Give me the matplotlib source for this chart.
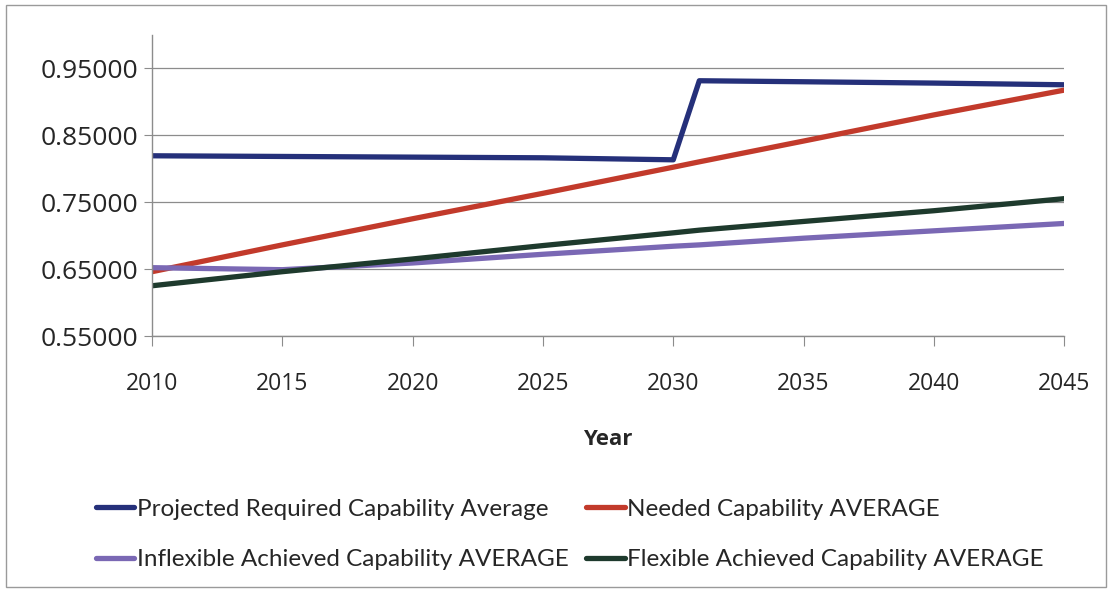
import matplotlib
matplotlib.use("Agg")
import matplotlib.pyplot as plt
from matplotlib.patches import Rectangle

years = [2010, 2015, 2020, 2025, 2030, 2031, 2035, 2040, 2045]
projected = [0.8190, 0.8180, 0.8170, 0.8160, 0.8130, 0.9310, 0.9295, 0.9275, 0.9250]
needed = [0.6460, 0.6860, 0.7250, 0.7630, 0.8020, 0.8100, 0.8410, 0.8800, 0.9170]
inflexible = [0.6520, 0.6490, 0.6590, 0.6720, 0.6840, 0.6860, 0.6960, 0.7070, 0.7180]
flexible = [0.6250, 0.6460, 0.6650, 0.6850, 0.7040, 0.7080, 0.7210, 0.7370, 0.7550]

series_names = ["Projected Required Capability Average",
                "Needed Capability AVERAGE",
                "Inflexible Achieved Capability AVERAGE",
                "Flexible Achieved Capability AVERAGE"]
x_ticks = [2010, 2015, 2020, 2025, 2030, 2035, 2040, 2045]
y_ticks = [0.55, 0.65, 0.75, 0.85, 0.95]

colors = ["#25307A", "#C23A2B", "#7A68B4", "#1E3A2D"]

fig = plt.figure(figsize=(11.12, 5.92), dpi=100)
fig.patches.append(Rectangle((0.005, 0.008), 0.99, 0.984, transform=fig.transFigure,
                             fill=False, edgecolor="#9a9a9a", linewidth=1.0))
ax = fig.add_axes([0.1367, 0.4324, 0.8203, 0.5093])

data = [projected, needed, inflexible, flexible]
lines = []
for vals, c, name in zip(data, colors, series_names):
    ln, = ax.plot(years, vals, color=c, linewidth=3.8, label=name, solid_capstyle="round")
    lines.append(ln)

ax.set_xlim(2010, 2045)
ax.set_ylim(0.55, 1.0)
ax.set_xticks(x_ticks)
ax.set_yticks(y_ticks)
ax.set_yticklabels([f"{v:.5f}" for v in y_ticks])
ax.grid(axis="y", color="#8c8c8c", linewidth=0.9)
ax.set_axisbelow(True)
for s in ["top", "right"]:
    ax.spines[s].set_visible(False)
for s in ["left", "bottom"]:
    ax.spines[s].set_color("#8c8c8c")
    ax.spines[s].set_linewidth(1.0)
ax.tick_params(axis="x", length=7, color="#8c8c8c", labelsize=16.5, pad=19, labelcolor="#262626")
ax.tick_params(axis="y", length=6, color="#8c8c8c", labelsize=19, pad=4, labelcolor="#262626")
for lab in ax.get_xticklabels() + ax.get_yticklabels():
    lab.set_fontfamily("Open Sans")
ax.set_xlabel("Year", fontsize=16, fontweight="bold", fontfamily="Open Sans",
              labelpad=24, color="#262626")

order = [0, 2, 1, 3]
leg = fig.legend([lines[i] for i in order], [series_names[i] for i in order],
                 ncol=2, loc="upper left", bbox_to_anchor=(0.0663, 0.1946),
                 frameon=False, handlelength=1.6, handletextpad=0.1,
                 columnspacing=0.71, labelspacing=1.21,
                 prop={"family": "Lato", "size": 17.5})
for t in leg.get_texts():
    t.set_color("#262626")

fig.savefig("out.png", dpi=100)
